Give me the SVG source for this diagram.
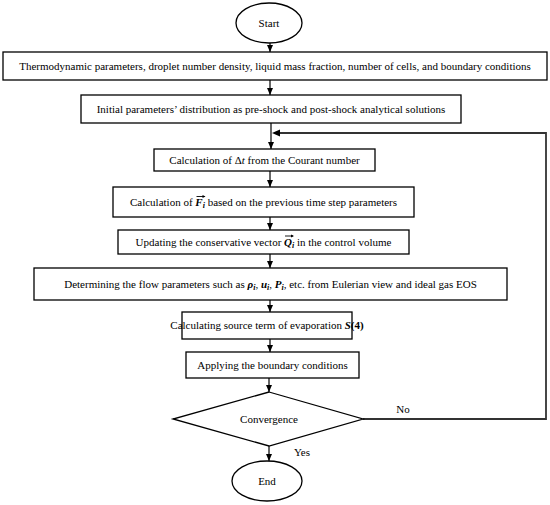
<svg xmlns="http://www.w3.org/2000/svg" width="550" height="505" viewBox="0 0 550 505">
<style>
.n{fill:#fff;stroke:#000;stroke-width:1.3}
.t{font-family:"Liberation Serif","Times New Roman","DejaVu Serif",serif;font-size:11px;fill:#000;text-anchor:middle}
.c{fill:none;stroke:#000;stroke-width:1.2}
.fb{fill:none;stroke:#333;stroke-width:1.8}
.m{font-weight:bold;font-style:italic}
.s{font-weight:bold;font-style:italic;font-size:8px}
.acc{fill:none;stroke:#000;stroke-width:0.9}
</style>
<defs>
<marker id="ah" markerWidth="8" markerHeight="8" refX="7" refY="4" orient="auto" markerUnits="userSpaceOnUse">
<path d="M0,1 L7,4 L0,7 Z" fill="#000"/>
</marker>
</defs>
<rect width="550" height="505" fill="#fff"/>
<g id="connectors">
<line class="c" x1="270" y1="43" x2="270" y2="52" marker-end="url(#ah)"/>
<line class="c" x1="270" y1="80" x2="270" y2="95" marker-end="url(#ah)"/>
<line class="c" x1="271" y1="123" x2="271" y2="149" marker-end="url(#ah)"/>
<line class="c" x1="270" y1="171" x2="270" y2="187" marker-end="url(#ah)"/>
<line class="c" x1="270" y1="217" x2="270" y2="230" marker-end="url(#ah)"/>
<line class="c" x1="270" y1="254" x2="270" y2="268" marker-end="url(#ah)"/>
<line class="c" x1="270" y1="300" x2="270" y2="312" marker-end="url(#ah)"/>
<line class="c" x1="270" y1="339" x2="270" y2="352" marker-end="url(#ah)"/>
<line class="c" x1="269" y1="378" x2="269" y2="392" marker-end="url(#ah)"/>
<line class="c" x1="269" y1="446" x2="269" y2="461" marker-end="url(#ah)"/>
<polyline class="fb" points="363,419 546,419 546,133 280,133"/>
<path d="M272,133 L280,129.5 L280,136.5 Z" fill="#000"/>
<text class="t" x="302" y="456" font-size="11.5">Yes</text>
<text class="t" x="403" y="413" font-size="11.5">No</text>
</g>
<g id="start">
<ellipse class="n" cx="269" cy="23" rx="33" ry="20"/>
<text class="t" x="269" y="27" font-size="12">Start</text>
</g>
<g id="box1">
<rect class="n" x="3" y="52" width="544" height="28"/>
<text class="t" x="275" y="69.5" font-size="10.3">Thermodynamic parameters, droplet number density, liquid mass fraction, number of cells, and boundary conditions</text>
</g>
<g id="box2">
<rect class="n" x="81" y="95" width="380" height="28"/>
<text class="t" x="271" y="112.5" font-size="10.6">Initial parameters’ distribution as pre-shock and post-shock analytical solutions</text>
</g>
<g id="box3">
<rect class="n" x="154" y="149" width="221" height="22"/>
<text class="t" x="264.5" y="164">Calculation of Δ<tspan font-style="italic">t</tspan> from the Courant number</text>
</g>
<g id="box4">
<rect class="n" x="113" y="187" width="301" height="30"/>
<text class="t" x="263.5" y="206">Calculation of <tspan class="m">F</tspan><tspan class="s" dy="2">i</tspan><tspan dy="-2"> based on the previous time step parameters</tspan></text>
<path class="acc" d="M196.5,196.5 H204.5"/>
<path d="M205.5,196.5 L202.5,195 L202.5,198 Z" fill="#000"/>
</g>
<g id="box5">
<rect class="n" x="118" y="230" width="291" height="24"/>
<text class="t" x="263.5" y="246">Updating the conservative vector <tspan class="m">Q</tspan><tspan class="s" dy="2">i</tspan><tspan dy="-2"> in the control volume</tspan></text>
<path class="acc" d="M285,236 H293"/>
<path d="M294,236 L291,234.5 L291,237.5 Z" fill="#000"/>
</g>
<g id="box6">
<rect class="n" x="34" y="268" width="473" height="32"/>
<text class="t" x="270.5" y="288">Determining the flow parameters such as <tspan class="m">ρ</tspan><tspan class="s" dy="2">i</tspan><tspan dy="-2">, </tspan><tspan class="m">u</tspan><tspan class="s" dy="2">i</tspan><tspan dy="-2">, </tspan><tspan class="m">P</tspan><tspan class="s" dy="2">i</tspan><tspan dy="-2">, etc. from Eulerian view and ideal gas EOS</tspan></text>
</g>
<g id="box7">
<rect class="n" x="182" y="312" width="170" height="27"/>
<text class="t" x="267" y="329" font-size="9.6">Calculating source term of evaporation <tspan class="m">S</tspan><tspan font-weight="bold">(4)</tspan></text>
</g>
<g id="box8">
<rect class="n" x="186" y="352" width="173" height="26"/>
<text class="t" x="272.5" y="369">Applying the boundary conditions</text>
</g>
<g id="decision">
<polygon class="n" points="269,392 363,419 269,446 173,419"/>
<text class="t" x="269" y="423" font-size="11.5">Convergence</text>
</g>
<g id="end">
<ellipse class="n" cx="267" cy="481" rx="35" ry="20"/>
<text class="t" x="267" y="485" font-size="12">End</text>
</g>
</svg>
